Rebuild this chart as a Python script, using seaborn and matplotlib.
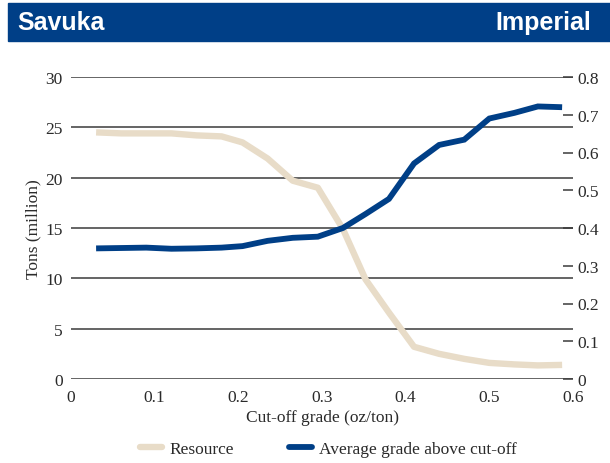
"""
Savuka grade-tonnage curve: resource tonnage and average grade above cut-off.
Saves out.png
"""

import matplotlib
matplotlib.use('Agg')
import matplotlib.pyplot as plt
from matplotlib.patches import Rectangle
from matplotlib.lines import Line2D
import pandas as pd
import seaborn as sns

# ── Data ───────────────────────────────────────────────
cutoff = [0.03, 0.06, 0.09, 0.12, 0.15, 0.18, 0.205, 0.235, 0.265, 0.295,
          0.325, 0.352, 0.38, 0.41, 0.44, 0.47, 0.50, 0.53, 0.558, 0.587]
resource = [24.5, 24.4, 24.4, 24.4, 24.2, 24.1, 23.5, 21.9, 19.7, 19.0,
            14.9, 9.9, 6.6, 3.2, 2.5, 2.0, 1.6, 1.45, 1.35, 1.4]
avg_grade = [0.346, 0.347, 0.348, 0.345, 0.346, 0.348, 0.352, 0.366, 0.374, 0.377,
             0.400, 0.437, 0.477, 0.571, 0.620, 0.634, 0.690, 0.705, 0.722, 0.720]

x_ticks = [0, 0.1, 0.2, 0.3, 0.4, 0.5, 0.6]
x_labels = ['0', '0.1', '0.2', '0.3', '0.4', '0.5', '0.6']
left_ticks = [0, 5, 10, 15, 20, 25, 30]
right_ticks = [0, 0.1, 0.2, 0.3, 0.4, 0.5, 0.6, 0.7, 0.8]
right_labels = ['0', '0.1', '0.2', '0.3', '0.4', '0.5', '0.6', '0.7', '0.8']

series_names = ['Resource', 'Average grade above cut-off']
# ───────────────────────────────────────────────────────

BLUE  = '#003f87'
BEIGE = '#e8dcc8'
GRID  = '#3a3a3a'
TEXT  = '#2a2a2a'
FS    = 12.5

sns.set_style('white')
plt.rcParams['font.family'] = ['Liberation Serif', 'DejaVu Serif']

df = pd.DataFrame({'cutoff': cutoff, 'resource': resource, 'grade': avg_grade})

fig = plt.figure(figsize=(6.1, 4.64), dpi=100)
W, H = 610, 464

# header band
fig.patches.append(Rectangle((8 / W, 1 - 42 / H), 602 / W, 38 / H,
                             transform=fig.transFigure, color=BLUE, zorder=0))
fig.text(17 / W, 1 - 23 / H, 'Savuka', color='white', fontsize=18,
         fontweight='bold', family=['Liberation Sans', 'DejaVu Sans'],
         va='center', ha='left')
fig.text(591 / W, 1 - 23 / H, 'Imperial', color='white', fontsize=18,
         fontweight='bold', family=['Liberation Sans', 'DejaVu Sans'],
         va='center', ha='right')

ax = fig.add_axes([71 / W, 1 - 380 / H, 502 / W, 302 / H])
ax2 = ax.twinx()

sns.lineplot(data=df, x='cutoff', y='resource', ax=ax, color=BEIGE,
             linewidth=4.6, solid_capstyle='butt')
sns.lineplot(data=df, x='cutoff', y='grade', ax=ax2, color=BLUE,
             linewidth=4.2, solid_capstyle='butt', solid_joinstyle='miter')

ax.set_xlim(0, 0.6)
ax.set_ylim(0, 30)
ax2.set_ylim(0, 0.8)

ax.set_xticks(x_ticks)
ax.set_xticklabels(x_labels)
ax.set_yticks(left_ticks)
ax.set_yticklabels([str(t) for t in left_ticks])
ax2.set_yticks(right_ticks)
ax2.set_yticklabels(right_labels)

ax.grid(axis='y', color=GRID, linewidth=1.1)
ax.grid(axis='x', visible=False)
ax2.grid(False)
ax.set_axisbelow(True)

for a in (ax, ax2):
    for s in a.spines.values():
        s.set_visible(False)

ax.tick_params(axis='x', length=0, pad=7, labelsize=FS, labelcolor=TEXT)
ax.tick_params(axis='y', length=0, pad=6, labelsize=FS, labelcolor=TEXT)
ax2.tick_params(axis='y', direction='in', length=7.5, width=1.1, color=GRID,
                pad=3, labelsize=FS, labelcolor=TEXT)

ax.set_xlabel('Cut-off grade (oz/ton)', fontsize=FS, color=TEXT, labelpad=3)
ax.set_ylabel('Tons (million)', fontsize=FS, color=TEXT, labelpad=3)
ax2.set_ylabel('')

handles = [Line2D([], [], color=BEIGE, linewidth=4.6),
           Line2D([], [], color=BLUE, linewidth=4.2)]
fig.legend(handles, series_names, loc='center',
           bbox_to_anchor=(328 / W, 1 - 450 / H), ncol=2, frameon=False,
           fontsize=FS, handlelength=1.3, handletextpad=0.4,
           columnspacing=3.2, labelcolor=TEXT)

fig.savefig('out.png', dpi=100)
